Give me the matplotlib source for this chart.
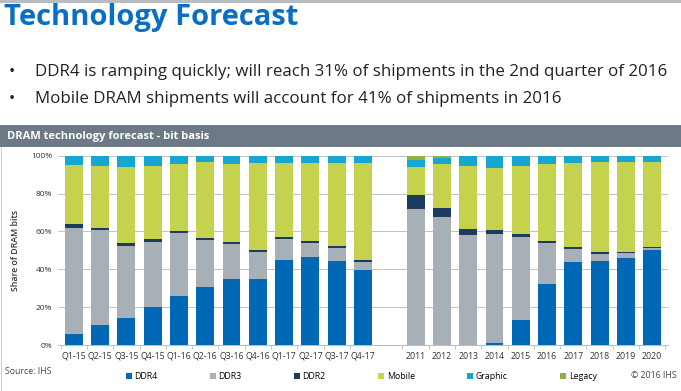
import matplotlib
matplotlib.use("Agg")
import matplotlib.pyplot as plt
from matplotlib.patches import Rectangle
import numpy as np

plt.rcParams['font.family'] = ['Open Sans', 'DejaVu Sans']

# ---------------- data ----------------
quarters = ['Q1-15', 'Q2-15', 'Q3-15', 'Q4-15', 'Q1-16', 'Q2-16',
            'Q3-16', 'Q4-16', 'Q1-17', 'Q2-17', 'Q3-17', 'Q4-17']
years = ['2011', '2012', '2013', '2014', '2015', '2016',
         '2017', '2018', '2019', '2020']

# share of DRAM bits (%), quarters then years
ddr4 = [6, 10.5, 14.5, 20, 26, 30.6, 35, 35, 45, 46.3, 44.4, 39.4,
        0, 0, 0, 1.2, 13.2, 32, 43.8, 44.5, 45.8, 50.2]
ddr3 = [56, 50, 38, 34.5, 33, 25, 18.5, 14, 11, 7.7, 6.8, 4.4,
        71.7, 67.4, 58.1, 57.6, 44, 21.7, 7.1, 3.7, 2.6, 1.2]
ddr2 = [2, 1.5, 1.5, 1.3, 1.2, 1, 1, 1, 0.9, 0.9, 0.9, 0.9,
        7.5, 5.1, 3.2, 1.8, 1.3, 1.1, 0.9, 0.9, 0.7, 0.2]
mobile = [31, 32.5, 40, 38.7, 35.2, 40, 41.2, 46.3, 39.2, 41.2, 44, 51.4,
          14.6, 22.9, 33.4, 33.1, 36, 41, 44.3, 47.6, 47.6, 45.3]
graphic = [5, 5.5, 6, 5.5, 4.6, 3.4, 4.4, 3.7, 3.9, 3.9, 3.9, 3.9,
           4.1, 3.2, 5.3, 6.3, 5.5, 4.2, 3.9, 3.3, 3.3, 3.3]
legacy = [0, 0, 0, 0, 0, 0, 0, 0, 0, 0, 0, 0,
          2.1, 1.4, 0, 0, 0, 0, 0, 0, 0, 0]

series = ['DDR4', 'DDR3', 'DDR2', 'Mobile', 'Graphic', 'Legacy']
colors = ['#0068B5', '#A7AFB7', '#1C3B5E', '#C4D24E', '#17A6CF', '#8DB33C']
values = [ddr4, ddr3, ddr2, mobile, graphic, legacy]

labels = quarters + years
# leave one empty slot between quarterly and annual groups
x = np.array(list(range(len(quarters))) + list(range(len(quarters) + 1, len(labels) + 1)))

W, H = 681, 391
fig = plt.figure(figsize=(W / 100, H / 100), dpi=100)

def fx(px):
    return px / W

def fy(py):
    return 1 - py / H

# slide header
fig.add_artist(Rectangle((0, fy(3)), 1, 3 / H, transform=fig.transFigure,
                         color='#B8BCC0', lw=0))
fig.text(fx(4), fy(18), 'Technology Forecast', fontsize=21, fontweight='bold',
         color='#0A6FC2', va='center', ha='left')
fig.text(fx(9), fy(72), '•', fontsize=12, va='center', color='#222222')
fig.text(fx(35), fy(72), 'DDR4 is ramping quickly; will reach 31% of shipments in the 2nd quarter of 2016',
         fontsize=12.2, va='center', color='#222222')
fig.text(fx(9), fy(99), '•', fontsize=12, va='center', color='#222222')
fig.text(fx(35), fy(99), 'Mobile DRAM shipments will account for 41% of shipments in 2016',
         fontsize=12.2, va='center', color='#222222')

# chart title bar
fig.add_artist(Rectangle((0, fy(147)), 1, 22 / H, transform=fig.transFigure,
                         color='#6D7986', lw=0))
fig.text(fx(7), fy(136), 'DRAM technology forecast - bit basis', fontsize=8,
         fontweight='bold', color='white', va='center')
fig.add_artist(Rectangle((fx(1), 0), 1.2 / W, fy(147), transform=fig.transFigure,
                         color='#C8CCD0', lw=0))

# ---------------- chart ----------------
ax = fig.add_axes([fx(58), fy(345), fx(668) - fx(58), (345 - 155.7) / H])
bottom = np.zeros(len(labels))
for name, vals, c in zip(series, values, colors):
    ax.bar(x, vals, bottom=bottom, width=0.68, color=c, label=name, zorder=2)
    bottom += np.array(vals)

ax.set_xlim(-0.6, x[-1] + 0.6)
ax.set_ylim(0, 100)
ax.set_yticks(np.arange(0, 101, 20))
ax.set_yticklabels(['%d%%' % v for v in range(0, 101, 20)], fontsize=6, color='#333333')
ax.set_xticks(x)
ax.set_xticklabels(labels, fontsize=6.3, color='#333333')
ax.set_xticks(np.append(x - 0.5, x[-1] + 0.5), minor=True)
ax.tick_params(axis='x', which='major', length=0, pad=5)
ax.tick_params(axis='x', which='minor', length=3, color='#BBBBBB', width=0.6)
ax.tick_params(axis='y', length=0, pad=4)
ax.grid(axis='y', color='#BFC3C7', lw=0.7, zorder=0)
for s in ['top', 'right', 'left']:
    ax.spines[s].set_visible(False)
ax.spines['bottom'].set_color('#BBBBBB')
ax.spines['bottom'].set_linewidth(0.7)
ax.set_ylabel('Share of DRAM bits', fontsize=6.3, fontweight='semibold', color='#333333', labelpad=8)

# footer
fig.text(fx(5), fy(372), 'Source: IHS', fontsize=6.3, color='#444444', va='center')
fig.text(fx(677), fy(376), '\u00a9 2016 IHS', fontsize=6.3, color='#444444', va='center', ha='right')
handles, lbls = ax.get_legend_handles_labels()
fig.legend(handles, lbls, loc='center left', ncol=6,
           bbox_to_anchor=(fx(122), fy(377), fx(600) - fx(122), 0.001), mode='expand',
           frameon=False, fontsize=6.3, handlelength=0.7, handleheight=0.7,
           handletextpad=0.3, borderaxespad=0)

fig.savefig('out.png', dpi=100)
